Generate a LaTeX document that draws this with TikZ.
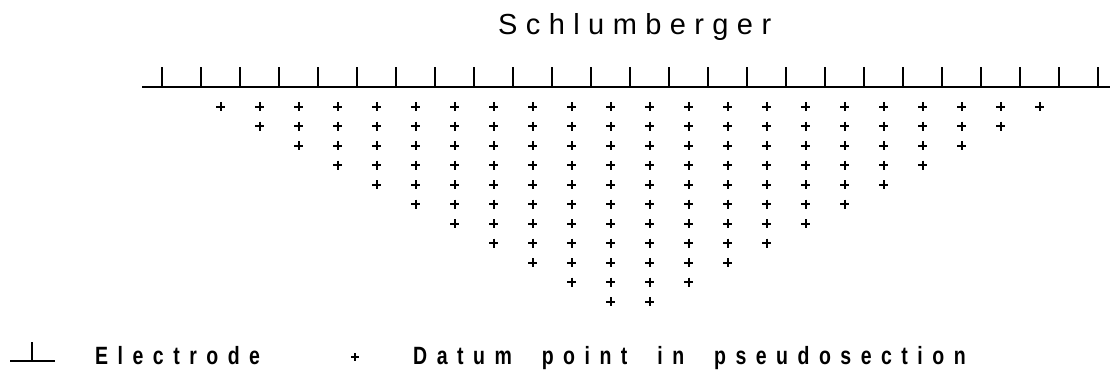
\documentclass[tikz,border=0pt]{standalone}
\usepackage{fontspec}
\setmainfont{Liberation Sans}
\newfontfamily\titlefont[LetterSpace=29]{Liberation Sans}
\newfontfamily\legendfont[FakeStretch=0.78,LetterSpace=38]{Liberation Sans Bold}
\begin{document}
\begin{tikzpicture}[x=1pt,y=-1pt,
  axisline/.style={line width=1.6pt,black},
  electrodetick/.style={line width=1.6pt,black},
  datummark/.style={line width=2pt,black},
  legendmark/.style={line width=1.4pt,black},
  titletext/.style={anchor=base west,inner sep=0pt,font=\titlefont\fontsize{29}{29}\selectfont},
  legendtext/.style={anchor=base west,inner sep=0pt,font=\legendfont\fontsize{25}{25}\selectfont}]
\useasboundingbox (0,0) rectangle (1110,371);
% title
\node[titletext] (title) at (498,35) {Schlumberger};
% surface line and electrodes
\coordinate (lineA) at (142,87);
\coordinate (lineB) at (1110,87);
\draw[axisline] (lineA) -- (lineB);
\foreach \i in {0,...,24}{
  \draw[electrodetick] ({162+39*\i},87) -- ({162+39*\i},67);
}
% datum points
\foreach \k in {0,...,10}{
  \pgfmathtruncatemacro\first{1+\k}
  \pgfmathtruncatemacro\last{22-\k}
  \foreach \j in {\first,...,\last}{
    \draw[datummark] ({162+39*(\j+0.5)-4.5},{106.7+19.5*\k}) -- ++(9,0)
                     ({162+39*(\j+0.5)},{106.7+19.5*\k-4.5}) -- ++(0,9);
  }
}
% legend
\draw[legendmark] (10,361) -- (55,361) (32,361) -- (32,342);
\node[legendtext] (electrodelabel) at (95,364) {Electrode};
\draw[legendmark] (351,357) -- ++(8,0) (355,353) -- ++(0,8);
\node[legendtext] (datumlabel) at (413,364) {Datum\hspace{15pt} point\hspace{15pt} in\hspace{15pt} pseudosection};
\end{tikzpicture}
\end{document}
